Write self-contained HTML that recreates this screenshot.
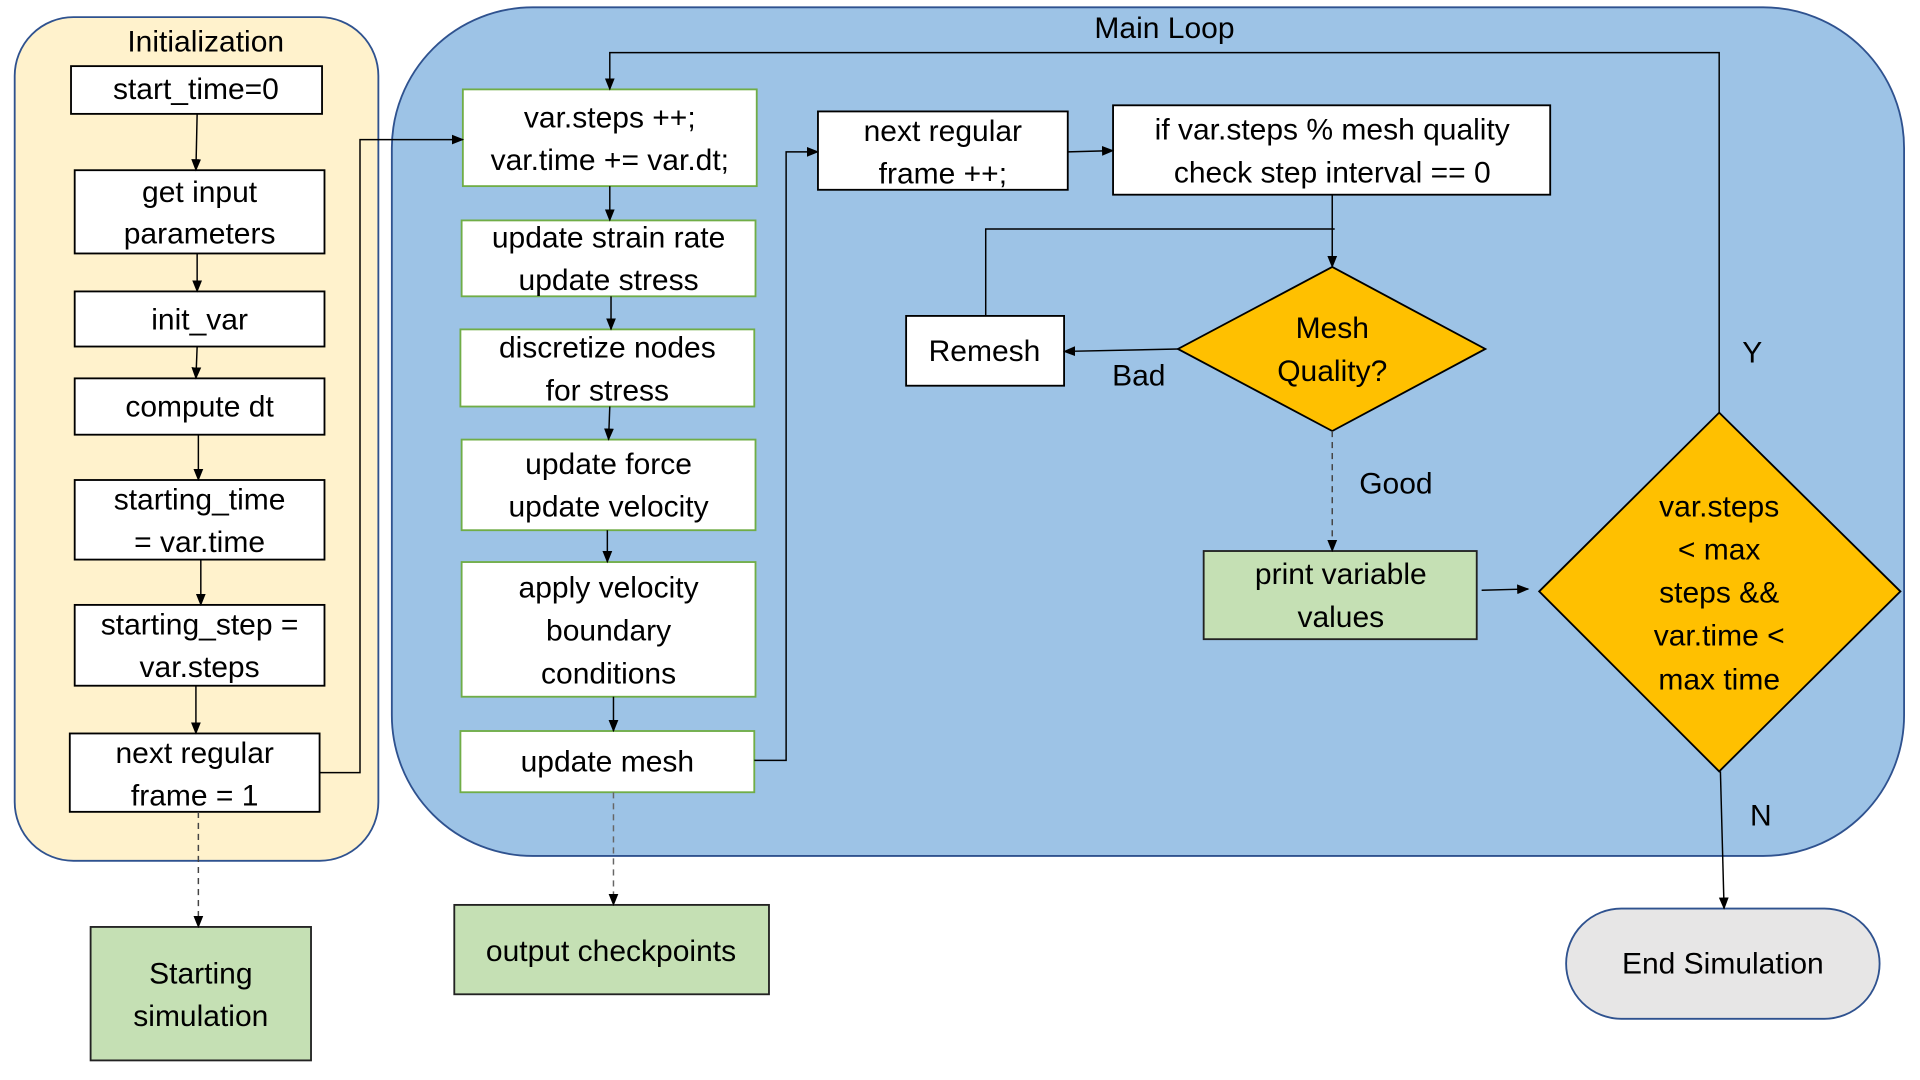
<!DOCTYPE html>
<html><head><meta charset="utf-8"><style>
html,body{margin:0;padding:0;background:#fff;width:1920px;height:1080px;overflow:hidden}
svg{display:block}
text{font-family:"Liberation Sans",sans-serif;font-size:24.5px;fill:#000;text-anchor:middle}
</style></head><body>
<svg width="1920" height="1080" viewBox="0 0 1568 882" xmlns="http://www.w3.org/2000/svg">
<defs>
<marker id="a" markerWidth="10" markerHeight="10" refX="9" refY="5" orient="auto" markerUnits="userSpaceOnUse">
<path d="M0,1 L10,5 L0,9 Z" fill="#000"/></marker>
</defs>
<rect x="12" y="14" width="297" height="689" rx="48" fill="#fff2cc" stroke="#2f528f" stroke-width="1.5"/>
<rect x="320" y="6" width="1235" height="693" rx="115" fill="#9dc3e6" stroke="#2f528f" stroke-width="1.5"/>

<g fill="#fff" stroke="#000" stroke-width="1.5">
<rect x="58" y="54" width="205" height="39"/>
<rect x="61" y="139" width="204" height="68"/>
<rect x="61" y="238" width="204" height="45"/>
<rect x="61" y="309" width="204" height="46"/>
<rect x="61" y="392" width="204" height="65"/>
<rect x="61" y="494" width="204" height="66"/>
<rect x="57" y="599" width="204" height="64"/>
<rect x="668" y="91" width="204" height="64"/>
<rect x="909" y="86" width="357" height="73"/>
<rect x="740" y="258" width="129" height="57"/>
</g>
<g fill="#fff" stroke="#70ad47" stroke-width="1.5">
<rect x="378" y="73" width="240" height="79"/>
<rect x="377" y="180" width="240" height="62"/>
<rect x="376" y="269" width="240" height="63"/>
<rect x="377" y="359" width="240" height="74"/>
<rect x="377" y="459" width="240" height="110"/>
<rect x="376" y="597" width="240" height="50"/>
</g>
<g fill="#c5e0b4" stroke="#222" stroke-width="1.5">
<rect x="74" y="757" width="180" height="109"/>
<rect x="371" y="739" width="257" height="73"/>
<rect x="983" y="450" width="223" height="72"/>
</g>
<rect x="1279" y="742" width="256" height="90" rx="45" fill="#e7e6e6" stroke="#2f528f" stroke-width="1.5"/>
<g fill="#ffc000" stroke="#000" stroke-width="1.5">
<polygon points="1088,218 1213,285 1088,352 962,285"/>
<polygon points="1404,337 1552,483 1404,630 1257,483"/>
</g>

<g stroke="#000" stroke-width="1.2" fill="none">
<path d="M161,93 L160,139" marker-end="url(#a)"/>
<path d="M161,207 L161,238" marker-end="url(#a)"/>
<path d="M161,283 L160,309" marker-end="url(#a)"/>
<path d="M162,355 L162,392" marker-end="url(#a)"/>
<path d="M164,457 L164,494" marker-end="url(#a)"/>
<path d="M160,560 L160,599" marker-end="url(#a)"/>
<path d="M261,631 L294,631 L294,114 L378,114" marker-end="url(#a)"/>
<path d="M498,152 L498,180" marker-end="url(#a)"/>
<path d="M499,242 L499,269" marker-end="url(#a)"/>
<path d="M498,332 L497,359" marker-end="url(#a)"/>
<path d="M496,433 L496,459" marker-end="url(#a)"/>
<path d="M501,569 L501,597" marker-end="url(#a)"/>
<path d="M616,621 L642,621 L642,124 L668,124" marker-end="url(#a)"/>
<path d="M872,124 L909,123" marker-end="url(#a)"/>
<path d="M1088,159 L1088,218" marker-end="url(#a)"/>
<path d="M1090,187 L805,187 L805,258"/>
<path d="M962,285 L869,287" marker-end="url(#a)"/>
<path d="M1088,352 L1088,450" stroke-dasharray="5,4" stroke="#444" marker-end="url(#a)"/>
<path d="M1210,482 L1248,481" marker-end="url(#a)"/>
<path d="M1404,337 L1404,43 L498,43 L498,73" marker-end="url(#a)"/>
<path d="M1405,630 L1408,742" marker-end="url(#a)"/>
<path d="M162,663 L162,757" stroke-dasharray="5,4" stroke="#444" marker-end="url(#a)"/>
<path d="M501,647 L501,739" stroke-dasharray="5,4" stroke="#666" marker-end="url(#a)"/>
</g>

<g transform="translate(0,0)">
<text x="168" y="43" dy="-1">Initialization</text>
<text x="951" y="32" dy="-1">Main Loop</text>
<text x="160" y="82" dy="-1">start_time=0</text>
<text x="163" y="166" dy="-1">get input</text>
<text x="163" y="200" dy="-1">parameters</text>
<text x="163" y="270" dy="-1">init_var</text>
<text x="163" y="341" dy="-1">compute dt</text>
<text x="163" y="417" dy="-1">starting_time</text>
<text x="163" y="452" dy="-1">= var.time</text>
<text x="163" y="519" dy="-1">starting_step =</text>
<text x="163" y="554" dy="-1">var.steps</text>
<text x="159" y="624" dy="-1">next regular</text>
<text x="159" y="659" dy="-1">frame = 1</text>
<text x="164" y="804" dy="-1">Starting</text>
<text x="164" y="839" dy="-1">simulation</text>

<text x="498" y="105" dy="-1">var.steps ++;</text>
<text x="498" y="140" dy="-1">var.time += var.dt;</text>
<text x="497" y="203" dy="-1">update strain rate</text>
<text x="497" y="238" dy="-1">update stress</text>
<text x="496" y="293" dy="-1">discretize nodes</text>
<text x="496" y="328" dy="-1">for stress</text>
<text x="497" y="388" dy="-1">update force</text>
<text x="497" y="423" dy="-1">update velocity</text>
<text x="497" y="489" dy="-1">apply velocity</text>
<text x="497" y="524" dy="-1">boundary</text>
<text x="497" y="559" dy="-1">conditions</text>
<text x="496" y="631" dy="-1">update mesh</text>
<text x="499" y="786" dy="-1">output checkpoints</text>

<text x="770" y="116" dy="-1">next regular</text>
<text x="770" y="151" dy="-1">frame ++;</text>
<text x="1088" y="115" dy="-1">if var.steps % mesh quality</text>
<text x="1088" y="150" dy="-1">check step interval == 0</text>
<text x="804" y="296" dy="-1">Remesh</text>
<text x="1088" y="277" dy="-1">Mesh</text>
<text x="1088" y="312" dy="-1">Quality?</text>
<text x="930" y="316" dy="-1">Bad</text>
<text x="1140" y="404" dy="-1">Good</text>
<text x="1095" y="478" dy="-1">print variable</text>
<text x="1095" y="513" dy="-1">values</text>
<text x="1404" y="423" dy="-1">var.steps</text>
<text x="1404" y="458" dy="-1">&lt; max</text>
<text x="1404" y="493" dy="-1">steps &amp;&amp;</text>
<text x="1404" y="528" dy="-1">var.time &lt;</text>
<text x="1404" y="564" dy="-1">max time</text>
<text x="1431" y="297" dy="-1">Y</text>
<text x="1438" y="675" dy="-1">N</text>
<text x="1407" y="796" dy="-1">End Simulation</text>
</g>
</svg>
</body></html>
